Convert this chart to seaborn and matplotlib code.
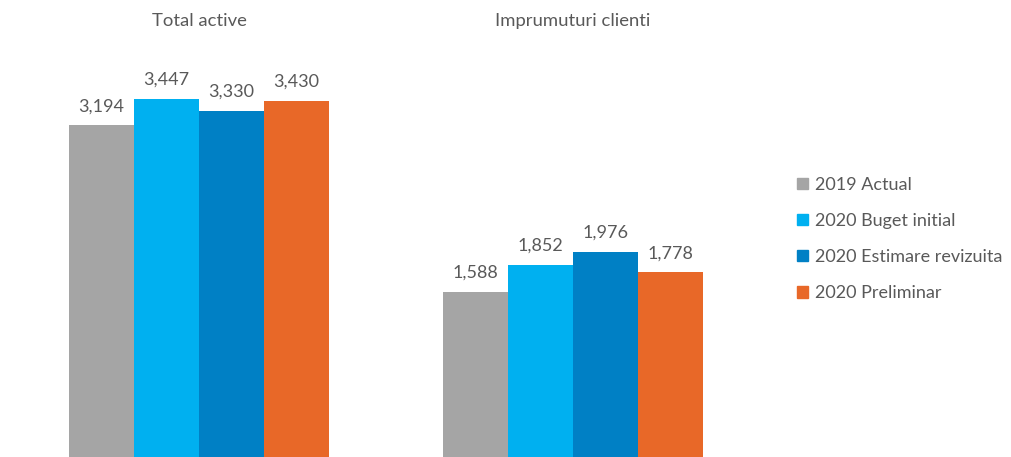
import pandas as pd
import matplotlib
matplotlib.use("Agg")
import matplotlib.pyplot as plt
import seaborn as sns

# Data
categories = ["Total active", "Imprumuturi clienti"]
series = ["2019 Actual", "2020 Buget initial", "2020 Estimare revizuita", "2020 Preliminar"]
total_active = [3194, 3447, 3330, 3430]
imprumuturi = [1588, 1852, 1976, 1778]
colors = ["#A5A5A5", "#00B0F0", "#0080C5", "#E86828"]

rows = []
for s, v in zip(series, total_active):
    rows.append({"cat": categories[0], "series": s, "value": v})
for s, v in zip(series, imprumuturi):
    rows.append({"cat": categories[1], "series": s, "value": v})
df = pd.DataFrame(rows)

sns.set_style("white")
plt.rcParams["font.family"] = ["Lato", "DejaVu Sans"]
text_color = "#595959"

fig = plt.figure(figsize=(10.12, 4.57), dpi=100)
ax = fig.add_axes([12 / 1012, 0, 748 / 1012, 1])

sns.barplot(data=df, x="cat", y="value", hue="series", order=categories,
            hue_order=series, palette=colors, saturation=1, width=0.695,
            linewidth=0, ax=ax, legend=False)

ax.set_xlim(-0.5, 1.5)
ax.set_ylim(0, 3447 * 457 / 358)
ax.set_axis_off()

for cont in ax.containers:
    for bar in cont:
        h = bar.get_height()
        ax.annotate(f"{h:,.0f}", (bar.get_x() + bar.get_width() / 2, h),
                    xytext=(0, 8), textcoords="offset points",
                    ha="center", va="bottom", fontsize=13, color=text_color)

# group titles
for i, c in enumerate(categories):
    ax.text(i, 1 - 21 / 457, c, transform=ax.get_xaxis_transform(),
            ha="center", va="center", fontsize=13.3, color=text_color)

handles = [plt.Rectangle((0, 0), 1, 1, color=c) for c in colors]
fig.legend(handles, series, loc="center left", bbox_to_anchor=(781 / 1012, 1 - 239 / 457),
           frameon=False, fontsize=13, labelcolor=text_color,
           handlelength=0.6, handleheight=0.6, handletextpad=0.4, labelspacing=1.12)

fig.savefig("out.png", dpi=100)
